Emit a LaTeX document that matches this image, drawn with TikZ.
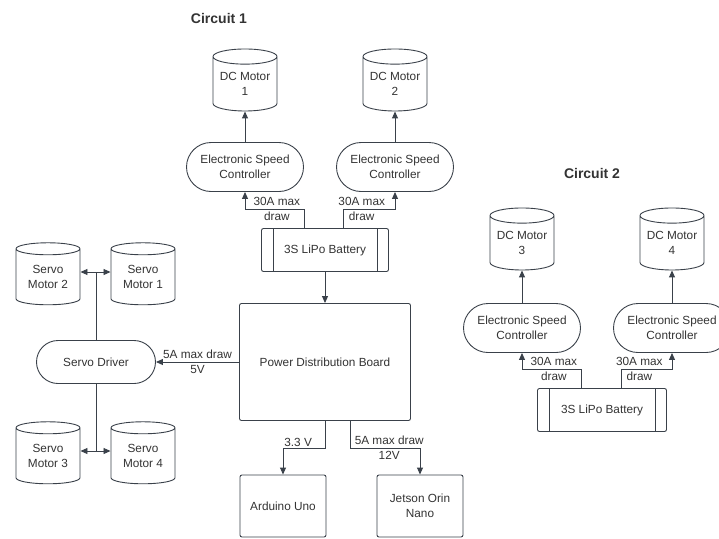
\documentclass[tikz,border=0pt]{standalone}
\usepackage{fontspec}
\setmainfont{Liberation Sans}
\usetikzlibrary{shapes.geometric,shapes.misc,arrows.meta}
\definecolor{linegray}{HTML}{3A414A}
\definecolor{textgray}{HTML}{333333}

\begin{document}
\begin{tikzpicture}[
        x=1pt, y=-1pt,
        color=linegray,
        line width=0.9pt,
        every node/.style={font=\fontsize{11.8}{14.5}\selectfont, text=textgray, align=center},
        motor/.style={draw, cylinder, shape border rotate=90, aspect=0.3, minimum width=64pt, minimum height=62pt, inner sep=0pt},
        esc/.style={draw, rounded rectangle, minimum width=117pt, minimum height=49pt, inner sep=0pt},
        batt/.style={draw, rounded corners=2pt, minimum width=127pt, minimum height=43pt},
        board/.style={draw, rounded corners=2pt, minimum width=86pt, minimum height=62pt},
        title/.style={font=\fontsize{14}{16}\selectfont\bfseries},
        arr/.style={-{Triangle[length=7pt,width=6pt]}},
        lbl/.style={inner sep=1pt},
    ]
    \useasboundingbox (0,0) rectangle (719,538);
    \clip (0,0) rectangle (719,538);

    % circuit 1
    \node[title] (t1) at (219,18) {Circuit 1};
    \node[motor] (dc1) at (245,84) {DC Motor\\1};
    \node[motor] (dc2) at (395,84) {DC Motor\\2};
    \node[esc] (esc1) at (245,167) {Electronic Speed\\Controller};
    \node[esc] (esc2) at (395,167) {Electronic Speed\\Controller};
    \node[batt] (bat1) at (325,250) {3S LiPo Battery};
    \node[draw, rounded corners=2pt, minimum width=171pt, minimum height=117pt] (pdb) at (325,362) {Power Distribution Board};
    \node[esc, minimum width=119pt, minimum height=43pt] (sdrv) at (96,362) {Servo Driver};
    \node[motor] (sm2) at (48,277) {Servo\\Motor 2};
    \node[motor] (sm1) at (143,277) {Servo\\Motor 1};
    \node[motor] (sm3) at (48,456) {Servo\\Motor 3};
    \node[motor] (sm4) at (143,456) {Servo\\Motor 4};
    \node[board] (ard) at (283,506) {Arduino Uno};
    \node[board] (jet) at (420,506) {Jetson Orin\\Nano};

    % circuit 2
    \node[title] (t2) at (592,173) {Circuit 2};
    \node[motor] (dc3) at (522,243) {DC Motor\\3};
    \node[motor] (dc4) at (672,243) {DC Motor\\4};
    \node[esc] (esc3) at (522,328) {Electronic Speed\\Controller};
    \node[esc] (esc4) at (672,328) {Electronic Speed\\Controller};
    \node[batt, minimum width=129pt] (bat2) at (602,410) {3S LiPo Battery};

    % battery cells
    \foreach \b in {bat1,bat2} {
        \draw ([xshift=12pt]\b.north west) -- ([xshift=12pt]\b.south west);
        \draw ([xshift=-12pt]\b.north east) -- ([xshift=-12pt]\b.south east);
    }

    % connectors
    \draw[arr] (esc1.north) -- (dc1.bottom);
    \draw[arr] (esc2.north) -- (dc2.bottom);
    \draw[arr] (esc3.north) -- (dc3.bottom);
    \draw[arr] (esc4.north) -- (dc4.bottom);
    \draw[arr] ([xshift=-21pt]bat1.north) -- ++(0,-19) -| node[lbl, pos=0.23] {30A max\\draw} (esc1.south);
    \draw[arr] ([xshift=18pt]bat1.north) -- ++(0,-19) -| node[lbl, pos=0.18] {30A max\\draw} (esc2.south);
    \draw[arr] ([xshift=-21pt]bat2.north) -- ++(0,-19) -| node[lbl, pos=0.23] {30A max\\draw} (esc3.south);
    \draw[arr] ([xshift=19pt]bat2.north) -- ++(0,-19) -| node[lbl, pos=0.18] {30A max\\draw} (esc4.south);
    \draw[arr] (bat1.south) -- (pdb.north);
    \draw[arr] (pdb.west) -- node[lbl] {5A max draw\\5V} (sdrv.east);

    \coordinate (j1) at (96,272);
    \coordinate (j2) at (96,451);
    \draw (sdrv.north) -- (j1);
    \draw[arr] (j1) -- (sm2.east |- j1);
    \draw[arr] (j1) -- (sm1.west |- j1);
    \draw (sdrv.south) -- (j2);
    \draw[arr] (j2) -- (sm3.east |- j2);
    \draw[arr] (j2) -- (sm4.west |- j2);

    \draw[arr] (pdb.south) -- ++(0,27) -| node[lbl, above, pos=0.32] {3.3 V} (ard.north);
    \draw[arr] ([xshift=25pt]pdb.south) -- ++(0,27) -| node[lbl, pos=0.28] {5A max draw\\12V} (jet.north);
\end{tikzpicture}
\end{document}
